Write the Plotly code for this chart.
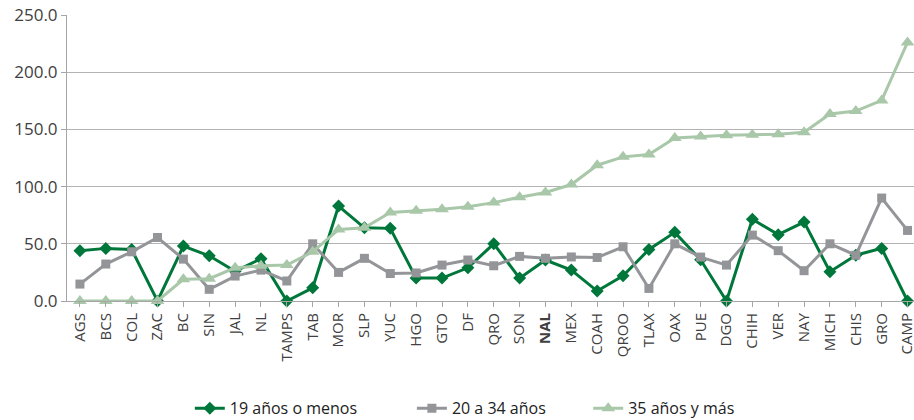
import plotly.graph_objects as go

categories = ["AGS", "BCS", "COL", "ZAC", "BC", "SIN", "JAL", "NL", "TAMPS", "TAB",
              "MOR", "SLP", "YUC", "HGO", "GTO", "DF", "QRO", "SON", "NAL", "MEX",
              "COAH", "QROO", "TLAX", "OAX", "PUE", "DGO", "CHIH", "VER", "NAY",
              "MICH", "CHIS", "GRO", "CAMP"]

s19 = [44, 46, 45, 0, 48, 39.5, 26, 37, 0, 11.5,
       83, 64, 63.5, 20, 20, 29, 50, 20, 35.8, 27,
       8.7, 22, 45, 60, 36, 0, 71.5, 58, 69,
       25.6, 40, 46, 0]

s20_34 = [14.8, 32.3, 43, 55.5, 36.6, 10.2, 21.8, 27, 17.5, 50,
          25, 37.3, 24, 24.5, 31.4, 35.8, 30.8, 39, 37.3, 38.5,
          38, 47.4, 11, 50, 38.4, 31.4, 57.6, 44, 26.5,
          50, 40, 90, 61.7]

s35 = [0, 0, 0, 0, 19, 19.5, 29, 30.8, 31.4, 43,
       62.5, 64, 77.4, 78.8, 80.3, 82.3, 86, 90.7, 94.8, 101.8,
       118.7, 126, 128, 142.5, 143.7, 144.9, 145.4, 145.7, 147.5,
       163.4, 166, 175.3, 226]

series_names = ["19 años o menos", "20 a 34 años", "35 años y más"]
colors = ["#00773A", "#939598", "#A9C7A9"]
symbols = ["diamond", "square", "triangle-up"]
msizes = [10, 9, 12]
pads = [12, 9, 0]

tick_text = ["<b>NAL</b>" if c == "NAL" else c for c in categories]
xs = list(range(len(categories)))

fig = go.Figure()
for name, vals, col, sym, ms, pad in zip(series_names, [s19, s20_34, s35], colors, symbols, msizes, pads):
    fig.add_trace(go.Scatter(
        x=xs, y=vals, name=name + "\u00a0" * pad, mode="lines+markers",
        line=dict(color=col, width=3),
        marker=dict(symbol=sym, size=ms, color=col),
        cliponaxis=False,
    ))

fig.update_layout(
    width=914, height=420,
    margin=dict(l=67, r=0, t=15, b=119, autoexpand=False),
    paper_bgcolor="white", plot_bgcolor="white",
    font=dict(family="Open Sans", color="#404040"),
    showlegend=True,
    legend=dict(orientation="h", x=0.145, xanchor="left", y=-0.375, yanchor="middle",
                font=dict(size=16, color="#222222"), traceorder="normal",
                itemwidth=30),
)
fig.update_xaxes(
    range=[-0.5, 32.25], tickmode="array", tickvals=xs, ticktext=tick_text,
    tickangle=-90, tickfont=dict(size=15, color="#404040"),
    ticklabeloverflow="allow",
    showgrid=False, showline=True, linecolor="#A6A6A6", linewidth=1,
    ticks="outside", tickson="boundaries", ticklen=5, tickcolor="#A6A6A6",
    zeroline=False, automargin=False,
)
fig.update_yaxes(
    range=[0, 250], tickvals=[0, 50, 100, 150, 200, 250],
    ticktext=["0.0", "50.0", "100.0", "150.0", "200.0", "250.0"],
    tickfont=dict(size=17, color="#404040"),
    showgrid=True, gridcolor="#B3B3B3", gridwidth=1,
    showline=True, linecolor="#A6A6A6", linewidth=1,
    ticks="outside", ticklen=5, tickcolor="#A6A6A6",
    zeroline=False, automargin=False,
)

fig.write_html("out.html", config={"displayModeBar": False},
               post_script="document.body.style.margin='0';document.body.style.overflow='hidden';")
